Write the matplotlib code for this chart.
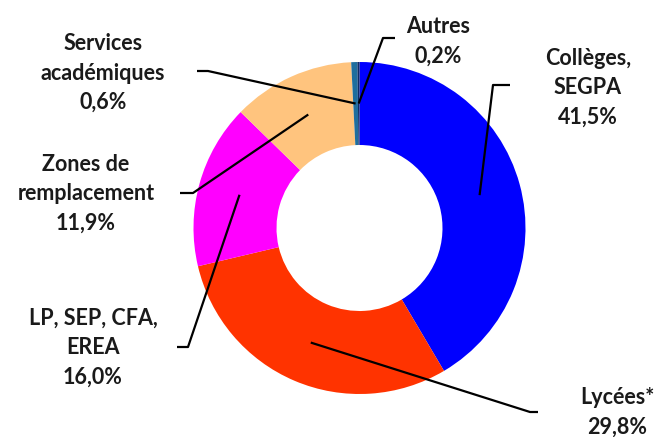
import numpy as np
import matplotlib
matplotlib.use("Agg")
import matplotlib.pyplot as plt

labels = ["Collèges,\nSEGPA", "Lycées*", "LP, SEP, CFA,\nEREA",
          "Zones de\nremplacement", "Services\nacadémiques", "Autres"]
values = [41.5, 29.8, 16.0, 11.9, 0.6, 0.2]
colors = ["#0000FF", "#FF3300", "#FF00FF", "#FFC47E", "#1F6E9E", "#0D2B66"]

# layout of the callouts (figure pixels, y from top): elbow, end of line, text centre
elbows = [(493, 85), (530, 412), (188, 347), (193, 193), (208, 71), (383, 38)]
ends = [(510, 85), (538, 412), (177, 347), (180, 193), (197, 71), (395, 38)]
text_pos = [(588, 88), (617, 412), (93, 348), (86, 194), (103, 73), (438, 41)]

W, H = 658, 437
fig = plt.figure(figsize=(W / 100, H / 100), dpi=100)
ax = fig.add_axes([0, 0, 1, 1])

cx, cy, R = 359.5, H - 228, 166
wedges, _ = ax.pie(values, colors=colors, startangle=90, counterclock=False,
                   center=(cx, cy), radius=R,
                   wedgeprops=dict(width=R * 0.5, linewidth=0))

ax.set_xlim(0, W)
ax.set_ylim(0, H)
ax.set_aspect("equal")
ax.axis("off")

for w, lab, v, el, en, tp in zip(wedges, labels, values, elbows, ends, text_pos):
    ang = np.deg2rad((w.theta1 + w.theta2) / 2)
    ax_, ay_ = cx + 0.75 * R * np.cos(ang), cy + 0.75 * R * np.sin(ang)
    ax.plot([ax_, el[0], en[0]], [ay_, H - el[1], H - en[1]],
            color="black", lw=1.6, solid_capstyle="butt")
    txt = f"{lab}\n{v:.1f}%".replace(".", ",")
    ax.text(tp[0], H - tp[1], txt, ha="center", va="center",
            fontsize=15.5, fontweight="bold", family="Lato",
            color="#1a1a1a", linespacing=1.5)

fig.savefig("out.png", dpi=100)
